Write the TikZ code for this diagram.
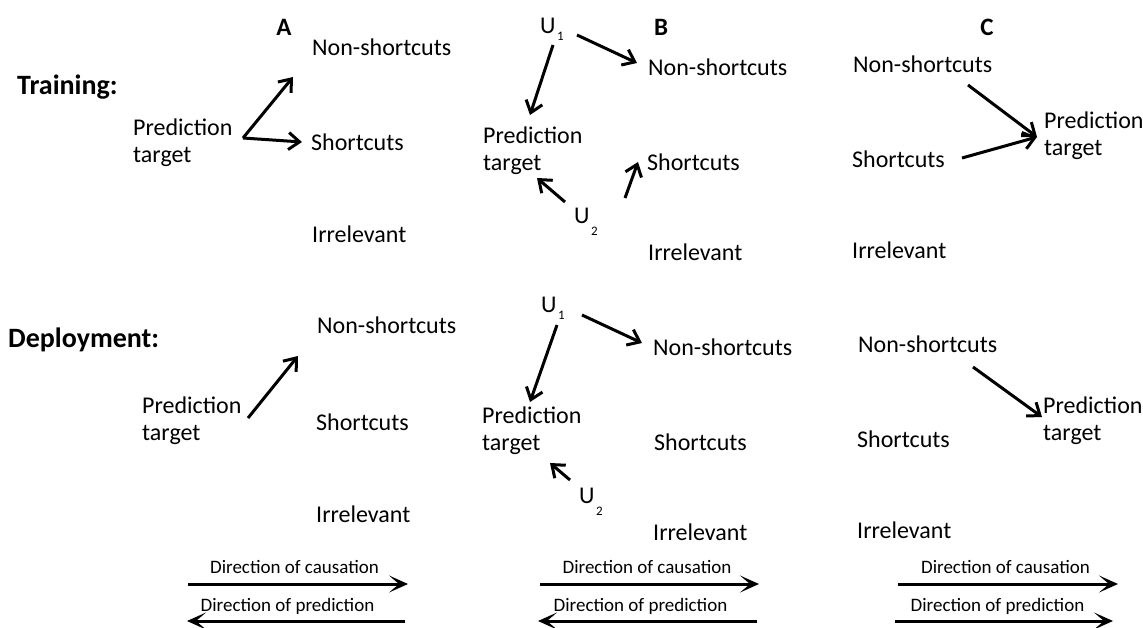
\documentclass[tikz,border=0pt]{standalone}
\usepackage{fontspec}
\setmainfont{Carlito}
\usetikzlibrary{arrows.meta}
\newcommand{\twoline}[2]{\vtop{\hbox{#1}\hbox{#2}}}
\tikzset{
  lbl/.style={inner sep=0pt, anchor=base west, font=\fontsize{24}{27}\selectfont},
  row/.style={inner sep=0pt, anchor=base west, font=\fontsize{28}{32}\selectfont\bfseries},
  pan/.style={inner sep=0pt, anchor=base, font=\fontsize{25}{28}\selectfont\bfseries},
  leg/.style={inner sep=0pt, anchor=base, font=\fontsize{19}{22}\selectfont},
  subs/.style={inner sep=0pt, anchor=base west, font=\fontsize{13}{15}\selectfont},
  arr/.style={line width=3pt, -{Straight Barb[length=11pt,width=17pt,line width=3pt]}},
  larr/.style={line width=3pt, -{Stealth[length=19pt,width=17pt,inset=10pt]}}
}
\begin{document}
\begin{tikzpicture}[x=1pt,y=-1pt]
\useasboundingbox (0,0) rectangle (1143,627);
% row labels
\node[row] (train) at (17,94) {Training:};
\node[row] (deploy) at (8,347) {Deployment:};
% panel labels
\node[pan] (pA) at (284,35) {A};
\node[pan] (pB) at (661,35) {B};
\node[pan] (pC) at (987,35) {C};

% ---------- Training, A ----------
\node[lbl] (nsA1) at (312,55) {Non-shortcuts};
\node[lbl] (predA1) at (133,135) {\twoline{Prediction}{target}};
\node[lbl] (scA1) at (311,150) {Shortcuts};
\node[lbl] (irA1) at (312,242) {Irrelevant};
\draw[arr] ([shift={(110,3)}]predA1.base west) -- ([shift={(-19,22)}]nsA1.base west);
\draw[arr] ([shift={(110,3)}]predA1.base west) -- ([shift={(-9,-8)}]scA1.base west);

% ---------- Training, B ----------
\node[lbl] (uoB1) at (540,33) {U};
\node[subs] (uoB1s) at ([shift={(1,7)}]uoB1.base east) {1};
\node[lbl] (nsB1) at (648,75) {Non-shortcuts};
\node[lbl] (predB1) at (483,143) {\twoline{Prediction}{target}};
\node[lbl] (scB1) at (647,170) {Shortcuts};
\node[lbl] (utB1) at (574,223) {U};
\node[subs] (utB1s) at ([shift={(1,12)}]utB1.base east) {2};
\node[lbl] (irB1) at (648,260) {Irrelevant};
\draw[arr] ([shift={(37,2)}]uoB1.base west) -- ([shift={(-11,-12)}]nsB1.base west);
\draw[arr] ([shift={(13,12)}]uoB1.base west) -- ([shift={(47,-28)}]predB1.base west);
\draw[arr] ([shift={(-9,-21)}]utB1.base west) -- ([shift={(54,35)}]predB1.base west);
\draw[arr] ([shift={(51,-25)}]utB1.base west) -- ([shift={(-9,-8)}]scB1.base west);

% ---------- Training, C ----------
\node[lbl] (nsC1) at (853,72) {Non-shortcuts};
\node[lbl] (predC1) at (1044,128) {\twoline{Prediction}{target}};
\node[lbl] (scC1) at (852,167) {Shortcuts};
\node[lbl] (irC1) at (852,258) {Irrelevant};
\draw[arr] ([shift={(115,13)}]nsC1.base west) -- ([shift={(-7,9)}]predC1.base west);
\draw[arr] ([shift={(110,-9)}]scC1.base west) -- ([shift={(-7,9)}]predC1.base west);

% ---------- Deployment, A ----------
\node[lbl] (nsA2) at (317,333) {Non-shortcuts};
\node[lbl] (predA2) at (142,413) {\twoline{Prediction}{target}};
\node[lbl] (scA2) at (316,430) {Shortcuts};
\node[lbl] (irA2) at (316,522) {Irrelevant};
\draw[arr] ([shift={(106,5)}]predA2.base west) -- ([shift={(-19,23)}]nsA2.base west);

% ---------- Deployment, B ----------
\node[lbl] (uoB2) at (541,312) {U};
\node[subs] (uoB2s) at ([shift={(1,7)}]uoB2.base east) {1};
\node[lbl] (nsB2) at (653,355) {Non-shortcuts};
\node[lbl] (predB2) at (482,423) {\twoline{Prediction}{target}};
\node[lbl] (scB2) at (654,450) {Shortcuts};
\node[lbl] (utB2) at (579,503) {U};
\node[subs] (utB2s) at ([shift={(1,12)}]utB2.base east) {2};
\node[lbl] (irB2) at (653,540) {Irrelevant};
\draw[arr] ([shift={(41,3)}]uoB2.base west) -- ([shift={(-11,-12)}]nsB2.base west);
\draw[arr] ([shift={(16,13)}]uoB2.base west) -- ([shift={(48,-21)}]predB2.base west);
\draw[arr] ([shift={(-9,-23)}]utB2.base west) -- ([shift={(68,40)}]predB2.base west);

% ---------- Deployment, C ----------
\node[lbl] (nsC2) at (858,352) {Non-shortcuts};
\node[lbl] (predC2) at (1043,413) {\twoline{Prediction}{target}};
\node[lbl] (scC2) at (857,447) {Shortcuts};
\node[lbl] (irC2) at (857,538) {Irrelevant};
\draw[arr] ([shift={(115,15)}]nsC2.base west) -- ([shift={(-1,4)}]predC2.base west);

% ---------- Legends ----------
\node[leg] (causA) at (294.5,573) {Direction of causation};
\node[leg] (predlA) at (287.5,611) {Direction of prediction};
\draw[larr] ([shift={(-106.5,11)}]causA.base) -- ([shift={(113.5,11)}]causA.base);
\draw[larr] ([shift={(117.5,10)}]predlA.base) -- ([shift={(-100.5,10)}]predlA.base);

\node[leg] (causB) at (647,573) {Direction of causation};
\node[leg] (predlB) at (640.5,611) {Direction of prediction};
\draw[larr] ([shift={(-107,11)}]causB.base) -- ([shift={(112,11)}]causB.base);
\draw[larr] ([shift={(116.5,10)}]predlB.base) -- ([shift={(-102.5,10)}]predlB.base);

\node[leg] (causC) at (1005.5,573) {Direction of causation};
\node[leg] (predlC) at (997.5,611) {Direction of prediction};
\draw[larr] ([shift={(-107.5,11)}]causC.base) -- ([shift={(112.5,11)}]causC.base);
\draw[larr] ([shift={(-102.5,10)}]predlC.base) -- ([shift={(115.5,10)}]predlC.base);
\end{tikzpicture}
\end{document}
